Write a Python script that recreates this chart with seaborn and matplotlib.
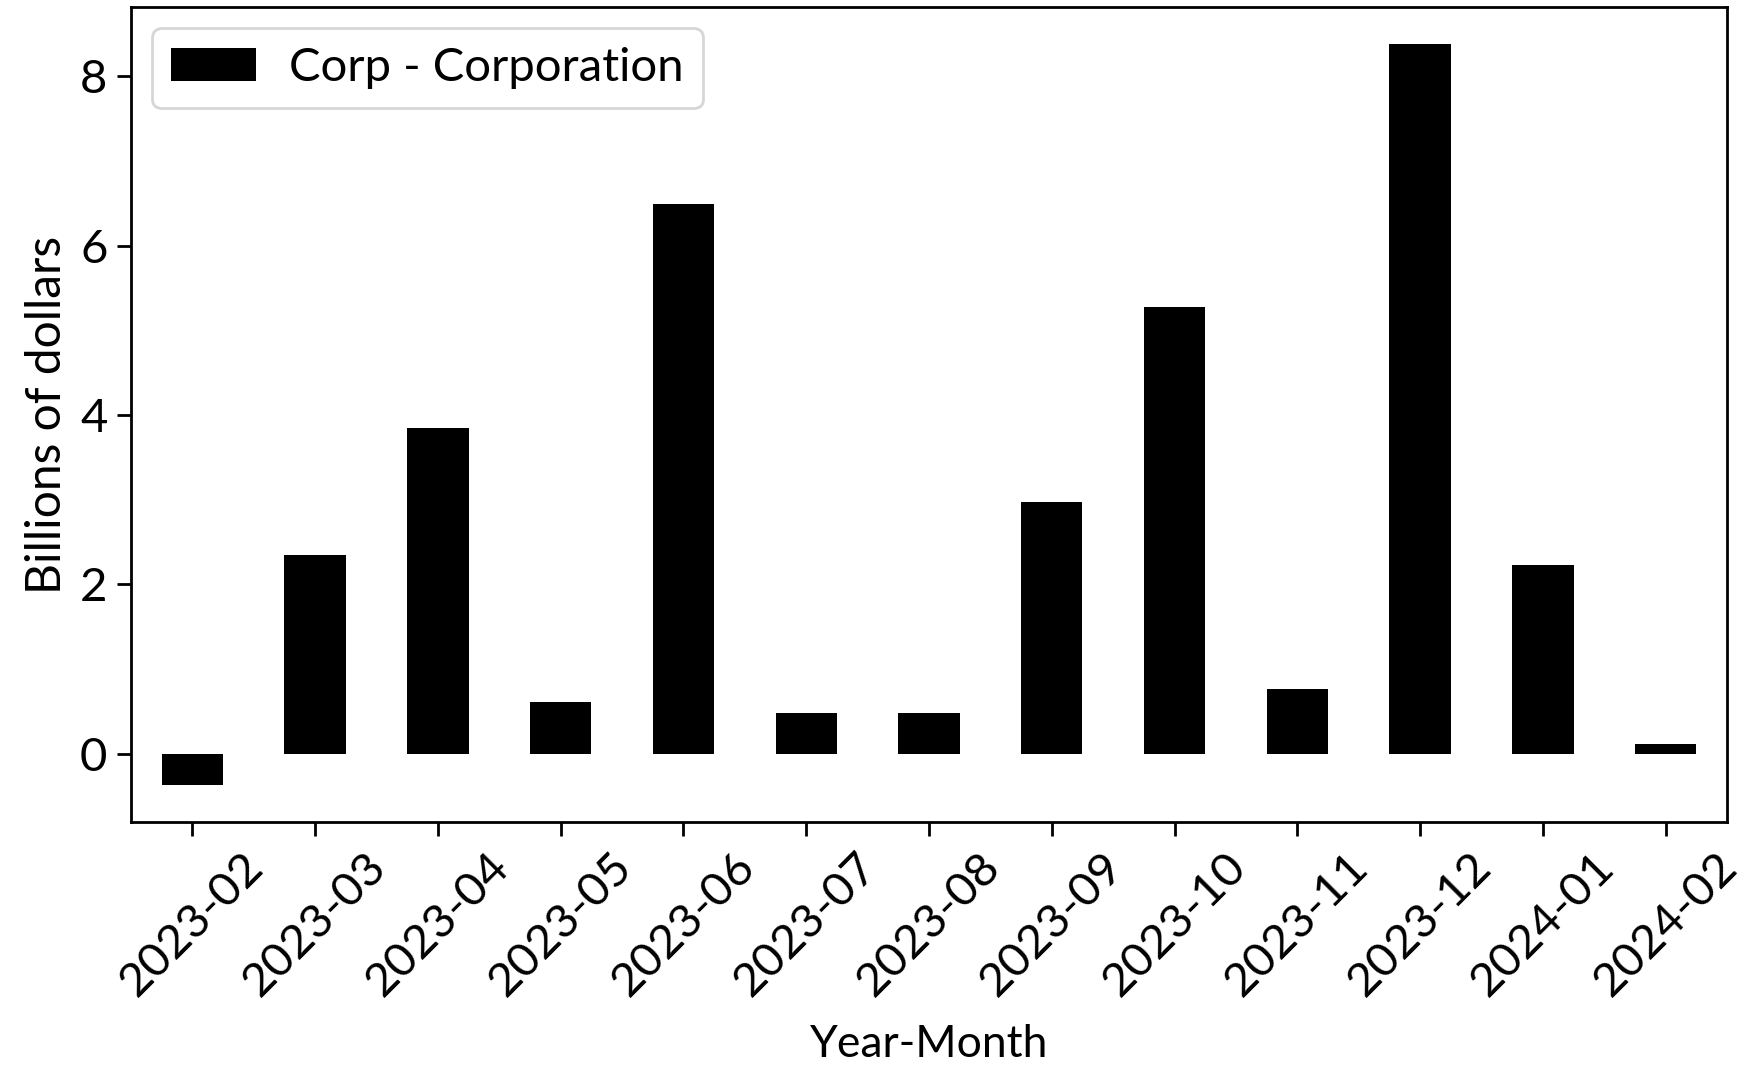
import matplotlib
matplotlib.use("Agg")
import matplotlib.pyplot as plt
import seaborn as sns
import pandas as pd
import numpy as np

months = ["2023-02", "2023-03", "2023-04", "2023-05", "2023-06", "2023-07", "2023-08",
          "2023-09", "2023-10", "2023-11", "2023-12", "2024-01", "2024-02"]
values = [-0.37, 2.34, 3.85, 0.61, 6.49, 0.48, 0.48, 2.97, 5.27, 0.76, 8.38, 2.23, 0.11]
series_name = "Corp - Corporation"

plt.rcParams['font.family'] = ['Lato', 'DejaVu Sans']

df = pd.DataFrame({"Year-Month": months, "value": values})

fig = plt.figure(figsize=(8.725, 5.325), dpi=200)
ax = fig.add_axes([131/1745, 1-822/1065, (1727-131)/1745, (822-7)/1065])

sns.barplot(data=df, x="Year-Month", y="value", color="black", width=0.5,
            saturation=1, ax=ax, label=series_name)

ax.set_xlim(-0.5, len(months) - 0.5)
vmin, vmax = min(min(values), 0), max(values)
pad = 0.05 * (vmax - vmin)
ax.set_ylim(vmin - pad, vmax + pad)
ax.set_yticks([0, 2, 4, 6, 8])

ax.set_xlabel("Year-Month", fontsize=16, labelpad=7)
ax.set_ylabel("Billions of dollars", fontsize=17.3)
ax.tick_params(axis='both', labelsize=17, length=5, width=1.0)
plt.setp(ax.get_xticklabels(), rotation=45, ha='center')
for s in ax.spines.values():
    s.set_linewidth(1.0)
ax.legend(loc='upper left', fontsize=17, handlelength=1.8, handletextpad=0.7,
          borderaxespad=0.45)

fig.savefig("out.png", dpi=200)
